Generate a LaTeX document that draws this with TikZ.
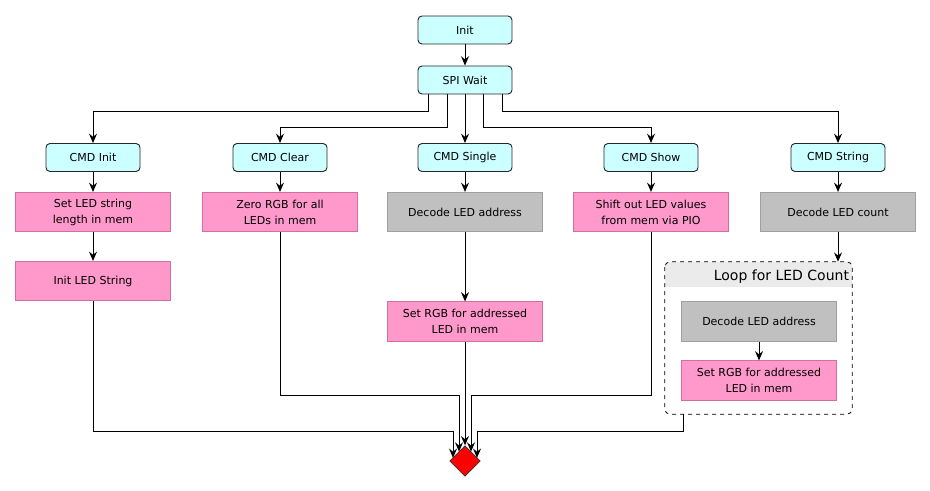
\documentclass[tikz,border=0pt]{standalone}
\usepackage{fontspec}
\setmainfont{DejaVu Sans}
\usetikzlibrary{calc, positioning}
\usetikzlibrary{arrows.meta}
\usetikzlibrary{shapes.geometric}
\definecolor{cmdfill}{HTML}{CCFFFF}
\definecolor{pinkfill}{HTML}{FF99CC}
\definecolor{pinkline}{HTML}{D0709F}
\definecolor{grayfill}{HTML}{C0C0C0}
\definecolor{grayline}{HTML}{A0A0A0}
\definecolor{bandfill}{HTML}{EBEBEB}
\begin{document}
\begin{tikzpicture}[x=0.75pt, y=-0.75pt,
  every node/.style={font=\fontsize{8.25pt}{12pt}\selectfont, align=center, inner sep=0pt},
  cmdbox/.style={draw=black!85, line width=0.7pt, fill=cmdfill, rounded corners=3pt, minimum width=70.5pt, minimum height=21pt},
  actpink/.style={draw=pinkline, line width=0.6pt, fill=pinkfill, minimum width=116.25pt, minimum height=29.5pt},
  actgray/.style={draw=grayline, line width=0.6pt, fill=grayfill, minimum width=116.25pt, minimum height=29.5pt},
  flow/.style={line width=0.75pt, -{Stealth[length=7pt, width=6pt, inset=2.4pt]}}]
\useasboundingbox (0,0) rectangle (930,491);
% top of the flow
\node[cmdbox] (init) at (465,30) {Init};
\node[cmdbox] (spi) at (465,80) {SPI Wait};
\node[cmdbox] (cinit) at (93,157.5) {CMD Init};
\node[cmdbox] (cclear) at (280,157.5) {CMD Clear};
\node[cmdbox] (csingle) at (465,157.5) {CMD Single};
\node[cmdbox] (cshow) at (651,157.5) {CMD Show};
\node[cmdbox] (cstring) at (838,157.5) {CMD String};
% actions
\node[actpink] (setlen) at (93,212) {Set LED string\\length in mem};
\node[actpink] (initstr) at (93,281) {Init LED String};
\node[actpink] (zero) at (280,212) {Zero RGB for all\\LEDs in mem};
\node[actgray] (decaddr) at (465,212) {Decode LED address};
\node[actpink] (setrgb) at (465,321.5) {Set RGB for addressed\\LED in mem};
\node[actpink] (shift) at (651,212) {Shift out LED values\\from mem via PIO};
\node[actgray] (deccount) at (838,212) {Decode LED count};
% loop group
\node[minimum width=140.25pt, minimum height=114pt] (loop) at (758.5,338) {};
\begin{scope}
\clip[rounded corners=4pt] (loop.north west) rectangle (loop.south east);
\fill[bandfill] (loop.north west) rectangle ($(loop.north east)+(0,25)$);
\end{scope}
\draw[dashed, line width=0.6pt, rounded corners=4pt] (loop.north west) rectangle (loop.south east);
\node[anchor=east, font=\fontsize{10.5pt}{12pt}\selectfont] (looptitle) at ($(loop.north east)+(-3,14.5)$) {Loop for LED Count};
\node[actgray] (decaddr2) at (759,321.5) {Decode LED address};
\node[actpink] (setrgb2) at (759,380.5) {Set RGB for addressed\\LED in mem};
\node[diamond, draw=black!80, fill=red, line width=0.5pt, minimum width=23pt, minimum height=23pt] (done) at (465,461) {};
% connectors
\draw[flow] (init) -- (spi);
\draw[flow] ([xshift=-27.75pt]spi.south) -- ++(0,17) -| (cinit.north);
\draw[flow] ([xshift=-13.5pt]spi.south) -- ++(0,33) -| (cclear.north);
\draw[flow] (spi) -- (csingle);
\draw[flow] ([xshift=13.5pt]spi.south) -- ++(0,33) -| (cshow.north);
\draw[flow] ([xshift=27.75pt]spi.south) -- ++(0,17) -| (cstring.north);
\draw[flow] (cinit) -- (setlen);
\draw[flow] (setlen) -- (initstr);
\draw[flow] (cclear) -- (zero);
\draw[flow] (csingle) -- (decaddr);
\draw[flow] (decaddr) -- (setrgb);
\draw[flow] (cshow) -- (shift);
\draw[flow] (cstring) -- (deccount);
\draw[flow] (deccount.south) -- (deccount.south |- loop.north);
\draw[flow] (decaddr2) -- (setrgb2);
% into the end
\coordinate (m1) at (453,431);
\coordinate (m2) at (459,395);
\coordinate (m3) at (471,395);
\coordinate (m4) at (477,431);
\coordinate (m5) at (683,431);
\draw[flow] (initstr.south) |- (m1) -- (m1 |- done.166);
\draw[flow] (zero.south) |- (m2) -- (m2 |- done.124);
\draw[flow] (setrgb) -- (done);
\draw[flow] (shift.south) |- (m3) -- (m3 |- done.56);
\draw[flow] (m5 |- loop.south) -- (m5) -- (m4) -- (m4 |- done.14);
\end{tikzpicture}
\end{document}
